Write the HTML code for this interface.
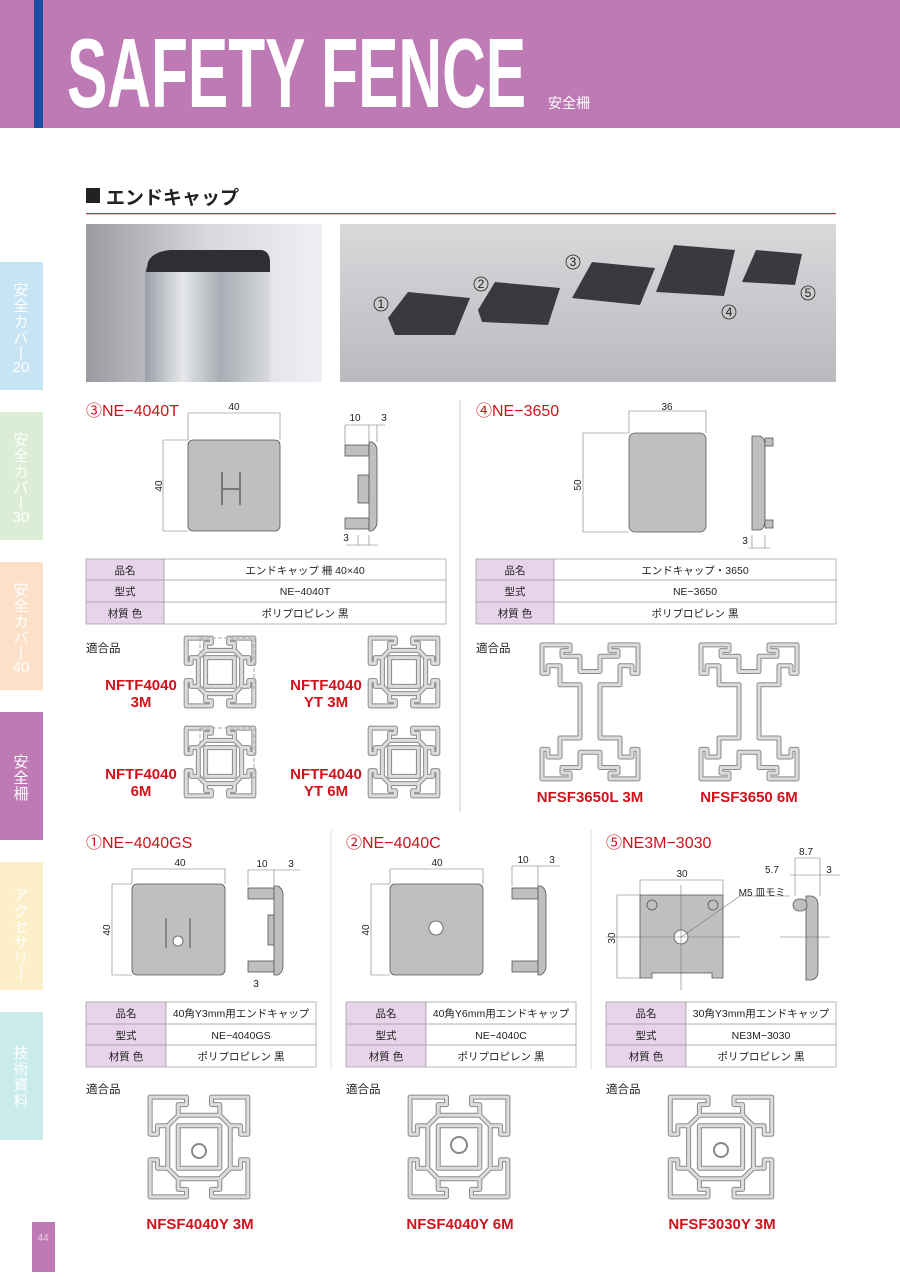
<!DOCTYPE html>
<html><head><meta charset="utf-8">
<style>
html,body{margin:0;padding:0;background:#fff;}
body{width:900px;height:1272px;position:relative;overflow:hidden;font-family:"Liberation Sans","Noto Sans CJK JP",sans-serif;}
svg text{font-family:"Liberation Sans","Noto Sans CJK JP",sans-serif;}
</style></head><body>
<svg width="900" height="1272" viewBox="0 0 900 1272" xmlns="http://www.w3.org/2000/svg">
<defs>
<linearGradient id="ph1" x1="0" x2="1"><stop offset="0" stop-color="#9a9ba0"/><stop offset="0.5" stop-color="#d6d7dc"/><stop offset="1" stop-color="#eef0f3"/></linearGradient>
<linearGradient id="ph2" x1="0" y1="0" x2="0" y2="1"><stop offset="0" stop-color="#d9d9dc"/><stop offset="1" stop-color="#b9babd"/></linearGradient>
<linearGradient id="alu" x1="0" x2="1"><stop offset="0" stop-color="#9aa0a8"/><stop offset="0.3" stop-color="#e6e8ea"/><stop offset="0.6" stop-color="#a8adb4"/><stop offset="1" stop-color="#d8dadd"/></linearGradient>
<path id="p40" vector-effect="non-scaling-stroke" d="M3,3 H38 V10 H30 V20 H70 V10 H62 V3 H97 V38 H90 V30 H80 V70 H90 V62 H97 V97 H62 V90 H70 V80 H30 V90 H38 V97 H3 V62 H10 V70 H20 V30 H10 V38 H3 Z M30,30 H70 V70 H30 Z M20,30 L30,20 M80,30 L70,20 M20,70 L30,80 M80,70 L70,80"/>
<path id="p36" vector-effect="non-scaling-stroke" d="M2,2 H30 V8 H22 V14 H40 V30 H60 V14 H78 V8 H70 V2 H98 V32 H92 V24 H80 V44 H60 V100 H80 V120 H92 V112 H98 V143 H70 V137 H78 V131 H60 V115 H40 V131 H22 V137 H30 V143 H2 V112 H8 V120 H20 V100 H40 V44 H20 V24 H8 V32 H2 Z"/>
</defs>

<!-- header -->
<rect x="0" y="0" width="900" height="128" fill="#bd7ab4"/>
<rect x="34" y="0" width="9" height="128" fill="#1b4ea1"/>
<text x="67" y="107" font-size="98" font-weight="bold" fill="#fff" transform="translate(67 0) scale(0.617 1) translate(-67 0)">SAFETY FENCE</text>
<text x="548" y="108" font-size="14" fill="#fff">安全柵</text>

<!-- side tabs -->
<rect x="0" y="262" width="43" height="128" fill="#c6e4f4"/>
<rect x="0" y="412" width="43" height="128" fill="#dcedd6"/>
<rect x="0" y="562" width="43" height="128" fill="#fde0c8"/>
<rect x="0" y="712" width="43" height="128" fill="#bd7ab4"/>
<rect x="0" y="862" width="43" height="128" fill="#fdefc8"/>
<rect x="0" y="1012" width="43" height="128" fill="#c9ebeb"/>
<g fill="#fff" font-size="15" text-anchor="middle">
<text x="21" y="295">安</text><text x="21" y="311">全</text><text x="21" y="327">カ</text><text x="21" y="343">バ</text><text x="21" y="357">|</text><text x="21" y="372">20</text>
<text x="21" y="445">安</text><text x="21" y="461">全</text><text x="21" y="477">カ</text><text x="21" y="493">バ</text><text x="21" y="507">|</text><text x="21" y="522">30</text>
<text x="21" y="595">安</text><text x="21" y="611">全</text><text x="21" y="627">カ</text><text x="21" y="643">バ</text><text x="21" y="657">|</text><text x="21" y="672">40</text>
<text x="21" y="767">安</text><text x="21" y="783">全</text><text x="21" y="799">柵</text>
<text x="21" y="900">ア</text><text x="21" y="916">ク</text><text x="21" y="932">セ</text><text x="21" y="948">サ</text><text x="21" y="964">リ</text><text x="21" y="978">|</text>
<text x="21" y="1058">技</text><text x="21" y="1074">術</text><text x="21" y="1090">資</text><text x="21" y="1106">料</text>
</g>
<rect x="32" y="1222" width="23" height="50" fill="#bd7ab4"/>
<text x="43" y="1241" font-size="10" fill="#e8d0e4" text-anchor="middle">44</text>

<!-- section heading -->
<rect x="86" y="188" width="14" height="15" fill="#222"/>
<text x="106" y="204" font-size="19" font-weight="bold" fill="#222">エンドキャップ</text>
<rect x="86" y="213" width="750" height="1.3" fill="#c8323c"/>

<!-- photos -->
<rect x="86" y="224" width="236" height="158" fill="url(#ph1)"/>
<rect x="145" y="268" width="125" height="114" fill="url(#alu)"/>
<path d="M148,262 Q152,252 170,250 H262 Q270,252 270,262 V272 H146 Z" fill="#2f2f33"/>
<rect x="340" y="224" width="496" height="158" fill="url(#ph2)"/>
<g fill="#3a3a3e">
<path d="M388,318 L408,292 L470,298 L455,335 L395,335 Z"/>
<path d="M478,310 L495,282 L560,288 L548,325 L482,322 Z"/>
<path d="M572,298 L592,262 L655,268 L640,305 Z"/>
<path d="M656,292 L674,245 L735,250 L724,296 Z"/>
<path d="M742,282 L756,250 L802,254 L795,285 Z"/>
</g>
<g font-size="12" fill="#222" text-anchor="middle">
<circle cx="381" cy="304" r="7" fill="none" stroke="#222" stroke-width="0.8"/><text x="381" y="308">1</text>
<circle cx="481" cy="284" r="7" fill="none" stroke="#222" stroke-width="0.8"/><text x="481" y="288">2</text>
<circle cx="573" cy="262" r="7" fill="none" stroke="#222" stroke-width="0.8"/><text x="573" y="266">3</text>
<circle cx="729" cy="312" r="7" fill="none" stroke="#222" stroke-width="0.8"/><text x="729" y="316">4</text>
<circle cx="808" cy="293" r="7" fill="none" stroke="#222" stroke-width="0.8"/><text x="808" y="297">5</text>
</g>

<!-- dividers -->
<line x1="460" y1="400" x2="460" y2="812" stroke="#ccc" stroke-width="1"/>
<line x1="331" y1="830" x2="331" y2="1070" stroke="#ddd" stroke-width="1"/>
<line x1="591" y1="830" x2="591" y2="1070" stroke="#ddd" stroke-width="1"/>

<!-- titles -->
<g font-size="16" fill="#d0121b">
<text x="86" y="416">③NE−4040T</text>
<text x="476" y="416">④NE−3650</text>
<text x="86" y="848">①NE−4040GS</text>
<text x="346" y="848">②NE−4040C</text>
<text x="606" y="848">⑤NE3M−3030</text>
</g>

<!-- drawings -->
<g stroke="#555" stroke-width="0.8" fill="#bfbfc1">
<rect x="188" y="440" width="92" height="91" rx="5"/>
<path d="M222,472 V505 M240,472 V505 M222,489 H240" stroke="#777" fill="none" stroke-width="2"/>
<rect x="345" y="445" width="24" height="11"/><rect x="345" y="518" width="24" height="11"/>
<rect x="358" y="475" width="11" height="28"/>
<path d="M369,442 H372 Q377,445 377,450 V522 Q377,528 372,531 H369 Z"/>
<rect x="629" y="433" width="77" height="99" rx="6"/>
<path d="M752,436 H760 Q765,438 765,445 V520 Q765,528 760,530 H752 Z"/>
<rect x="765" y="438" width="8" height="8"/><rect x="765" y="520" width="8" height="8"/>
<rect x="132" y="884" width="93" height="91" rx="5"/>
<circle cx="178" cy="941" r="5" fill="#fff"/>
<path d="M166,918 V948 M190,918 V948" stroke="#777" fill="none" stroke-width="1.5"/>
<rect x="248" y="888" width="26" height="11"/><rect x="248" y="961" width="26" height="11"/>
<path d="M274,886 H278 Q283,889 283,895 V966 Q283,972 278,975 H274 Z"/>
<rect x="268" y="915" width="6" height="30"/>
<rect x="390" y="884" width="93" height="91" rx="5"/>
<circle cx="436" cy="928" r="7" fill="#fff"/>
<rect x="512" y="888" width="26" height="11"/><rect x="512" y="961" width="26" height="11"/>
<path d="M538,886 H541 Q546,889 546,895 V966 Q546,972 541,975 H538 Z"/>
<path d="M640,895 H723 V978 H712 V973 H652 V978 H640 Z"/>
<circle cx="681" cy="937" r="7" fill="#fff"/>
<circle cx="652" cy="905" r="5" fill="none"/><circle cx="713" cy="905" r="5" fill="none"/>
<path d="M806,896 H812 Q818,898 818,905 V972 Q818,978 812,980 H806 Z"/>
<rect x="793" y="899" width="14" height="12" rx="6"/>
</g>
<g stroke="#777" stroke-width="0.6" fill="none">
<path d="M188,413 H280 M188,413 V440 M280,413 V440 M163,440 V531 M163,440 H188 M163,531 H188"/>
<path d="M345,425 H369 M369,425 H385 M345,425 V445 M369,425 V442 M377,425 V442 M346,545 H378 M358,535 V545 M369,535 V545"/>
<path d="M629,411 H706 M629,411 V433 M706,411 V433 M583,433 V532 M583,433 H629 M583,532 H629 M748,548 H770 M752,535 V548 M765,535 V548"/>
<path d="M132,869 H225 M132,869 V884 M225,869 V884 M112,884 V975 M112,884 H132 M112,975 H132 M248,870 H300 M248,870 V886 M274,870 V886"/>
<path d="M390,869 H483 M390,869 V884 M483,869 V884 M371,884 V975 M371,884 H390 M371,975 H390 M512,866 H560 M512,866 V886 M538,866 V886"/>
<path d="M640,880 H723 M640,880 V895 M723,880 V895 M617,895 V978 M617,895 H640 M617,978 H640 M795,858 H820 M795,858 V896 M820,858 V896 M790,875 H840 M606,937 H740 M681,885 V990 M780,937 H830 M681,937 L740,896 H790"/>
</g>
<g font-size="10" fill="#222" text-anchor="middle">
<text x="234" y="410">40</text><text x="355" y="421">10</text><text x="384" y="421">3</text><text x="346" y="541">3</text>
<text transform="translate(162 486) rotate(-90)">40</text>
<text x="667" y="410">36</text><text transform="translate(581 485) rotate(-90)">50</text><text x="745" y="544">3</text>
<text x="180" y="866">40</text><text x="262" y="867">10</text><text x="291" y="867">3</text><text x="256" y="987">3</text>
<text transform="translate(110 930) rotate(-90)">40</text>
<text x="437" y="866">40</text><text x="523" y="863">10</text><text x="552" y="863">3</text>
<text transform="translate(369 930) rotate(-90)">40</text>
<text x="682" y="877">30</text><text transform="translate(615 938) rotate(-90)">30</text>
<text x="762" y="896">M5 皿モミ</text><text x="806" y="855">8.7</text><text x="772" y="873">5.7</text><text x="829" y="873">3</text>
</g>

<!-- tables -->
<g stroke="#999" stroke-width="0.7">
<rect x="86" y="559" width="78" height="65" fill="#e8d4ea"/><rect x="164" y="559" width="282" height="65" fill="#fff"/>
<line x1="86" y1="580" x2="446" y2="580"/><line x1="86" y1="602" x2="446" y2="602"/>
<rect x="476" y="559" width="78" height="65" fill="#e8d4ea"/><rect x="554" y="559" width="282" height="65" fill="#fff"/>
<line x1="476" y1="580" x2="836" y2="580"/><line x1="476" y1="602" x2="836" y2="602"/>
<rect x="86" y="1002" width="80" height="65" fill="#e8d4ea"/><rect x="166" y="1002" width="150" height="65" fill="#fff"/>
<line x1="86" y1="1024" x2="316" y2="1024"/><line x1="86" y1="1045" x2="316" y2="1045"/>
<rect x="346" y="1002" width="80" height="65" fill="#e8d4ea"/><rect x="426" y="1002" width="150" height="65" fill="#fff"/>
<line x1="346" y1="1024" x2="576" y2="1024"/><line x1="346" y1="1045" x2="576" y2="1045"/>
<rect x="606" y="1002" width="80" height="65" fill="#e8d4ea"/><rect x="686" y="1002" width="150" height="65" fill="#fff"/>
<line x1="606" y1="1024" x2="836" y2="1024"/><line x1="606" y1="1045" x2="836" y2="1045"/>
</g>
<g font-size="10.5" fill="#222" text-anchor="middle">
<text x="125" y="574">品名</text><text x="125" y="595">型式</text><text x="125" y="617">材質 色</text>
<text x="305" y="574">エンドキャップ 柵 40×40</text><text x="305" y="595">NE−4040T</text><text x="305" y="617">ポリプロピレン 黒</text>
<text x="515" y="574">品名</text><text x="515" y="595">型式</text><text x="515" y="617">材質 色</text>
<text x="695" y="574">エンドキャップ・3650</text><text x="695" y="595">NE−3650</text><text x="695" y="617">ポリプロピレン 黒</text>
<text x="126" y="1017">品名</text><text x="126" y="1039">型式</text><text x="126" y="1060">材質 色</text>
<text x="241" y="1017">40角Y3mm用エンドキャップ</text><text x="241" y="1039">NE−4040GS</text><text x="241" y="1060">ポリプロピレン 黒</text>
<text x="386" y="1017">品名</text><text x="386" y="1039">型式</text><text x="386" y="1060">材質 色</text>
<text x="501" y="1017">40角Y6mm用エンドキャップ</text><text x="501" y="1039">NE−4040C</text><text x="501" y="1060">ポリプロピレン 黒</text>
<text x="646" y="1017">品名</text><text x="646" y="1039">型式</text><text x="646" y="1060">材質 色</text>
<text x="761" y="1017">30角Y3mm用エンドキャップ</text><text x="761" y="1039">NE3M−3030</text><text x="761" y="1060">ポリプロピレン 黒</text>
</g>

<g font-size="11.5" fill="#222">
<text x="86" y="652">適合品</text><text x="476" y="652">適合品</text>
<text x="86" y="1093">適合品</text><text x="346" y="1093">適合品</text><text x="606" y="1093">適合品</text>
</g>

<!-- profiles: double stroke for hollow wall look -->
<g fill="none" stroke="#8a8a8a" stroke-width="5" stroke-linejoin="round">
<use href="#p40" transform="translate(184 636) scale(0.72)"/>
<use href="#p40" transform="translate(368 636) scale(0.72)"/>
<use href="#p40" transform="translate(184 726) scale(0.72)"/>
<use href="#p40" transform="translate(368 726) scale(0.72)"/>
<use href="#p36" transform="translate(540 643) scale(1 0.95)"/>
<use href="#p36" transform="translate(699 643) scale(1 0.95)"/>
<use href="#p40" transform="translate(147 1094) scale(1.04 1.06)"/>
<use href="#p40" transform="translate(407 1094) scale(1.04 1.06)"/>
<use href="#p40" transform="translate(667 1094) scale(1.08 1.06)"/>
</g>
<g fill="none" stroke="#dcdcde" stroke-width="3" stroke-linejoin="round">
<use href="#p40" transform="translate(184 636) scale(0.72)"/>
<use href="#p40" transform="translate(368 636) scale(0.72)"/>
<use href="#p40" transform="translate(184 726) scale(0.72)"/>
<use href="#p40" transform="translate(368 726) scale(0.72)"/>
<use href="#p36" transform="translate(540 643) scale(1 0.95)"/>
<use href="#p36" transform="translate(699 643) scale(1 0.95)"/>
<use href="#p40" transform="translate(147 1094) scale(1.04 1.06)"/>
<use href="#p40" transform="translate(407 1094) scale(1.04 1.06)"/>
<use href="#p40" transform="translate(667 1094) scale(1.08 1.06)"/>
</g>
<g fill="none" stroke="#aaa" stroke-width="1" stroke-dasharray="4 2">
<rect x="200" y="638" width="54" height="50"/><rect x="200" y="728" width="54" height="50"/>
</g>
<g fill="#fff" stroke="#888" stroke-width="2">
<circle cx="199" cy="1151" r="7"/><circle cx="459" cy="1145" r="8"/><circle cx="721" cy="1150" r="7"/>
</g>

<g font-size="15" font-weight="bold" fill="#d0121b" text-anchor="middle">
<text x="141" y="690">NFTF4040</text><text x="141" y="707">3M</text>
<text x="326" y="690">NFTF4040</text><text x="326" y="707">YT 3M</text>
<text x="141" y="779">NFTF4040</text><text x="141" y="796">6M</text>
<text x="326" y="779">NFTF4040</text><text x="326" y="796">YT 6M</text>
<text x="590" y="802">NFSF3650L 3M</text><text x="749" y="802">NFSF3650 6M</text>
<text x="200" y="1229">NFSF4040Y 3M</text><text x="460" y="1229">NFSF4040Y 6M</text><text x="722" y="1229">NFSF3030Y 3M</text>
</g>
</svg>
</body></html>
